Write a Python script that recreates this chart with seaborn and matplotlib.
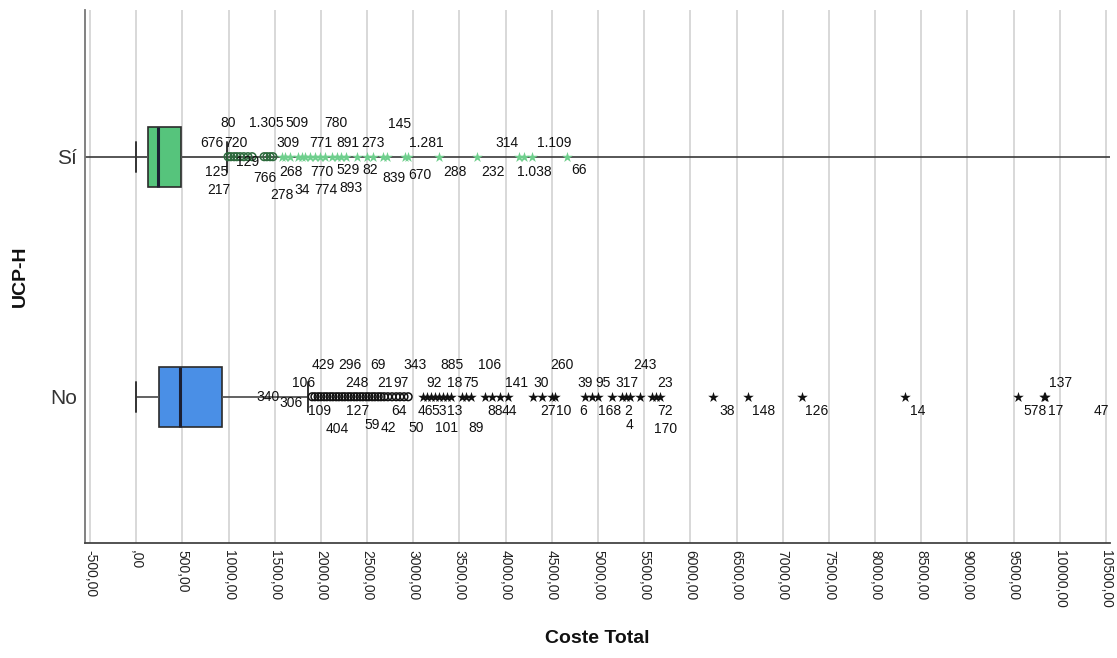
import numpy as np
import pandas as pd
import matplotlib
matplotlib.use("Agg")
import matplotlib.pyplot as plt
import seaborn as sns

# ---- data -------------------------------------------------------------
categories = ["Sí", "No"]

# five-number summaries: lower whisker, Q1, median, Q3, upper whisker
box_summary_si = [0, 124, 233, 482, 980]
box_summary_no = [0, 247, 474, 926, 1863]

# outlying cases (Coste Total) and their case numbers ("" = label hidden)
si_outliers = [995, 1025, 1060, 1090, 1125, 1165, 1210, 1255, 1385, 1415, 1450, 1480,
               1580, 1610, 1665, 1750, 1795, 1830, 1880, 1935, 1990, 2045, 2120, 2175,
               2215, 2270, 2390, 2500, 2565, 2670, 2715, 2910, 2940, 3280, 3690, 4145,
               4200, 4285, 4665]
si_case_ids = ["676", "125", "217", "80", "720", "129", "", "", "1.305", "766", "", "",
               "278", "309", "268", "509", "34", "", "", "771", "770", "774", "780", "891",
               "529", "893", "273", "82", "", "839", "145", "670", "1.281", "288", "232", "314",
               "1.038", "1.109", "66"]

no_outliers = [1905, 1935, 1970, 2000, 2035, 2065, 2100, 2130, 2165, 2195, 2230, 2260,
               2295, 2325, 2360, 2390, 2425, 2455, 2490, 2520, 2555, 2585, 2620, 2650,
               2685, 2725, 2770, 2815, 2855, 2900, 2945,
               3105, 3150, 3190, 3235, 3280, 3320, 3365, 3410, 3525, 3570, 3625, 3775,
               3850, 3935, 4025, 4295, 4395, 4500, 4535, 4860, 4935, 5000, 5150, 5260,
               5305, 5345, 5455, 5585, 5630, 5670, 6245, 6625, 7210, 8325, 9545, 9830,
               9840, 10650]
no_case_ids = ["340", "306", "106", "109", "429", "", "", "", "404", "", "", "",
               "296", "", "127", "248", "", "", "", "59", "", "69", "", "21",
               "", "42", "", "97", "64", "", "343",
               "50", "46", "92", "53", "101", "885", "18", "13", "75", "89", "106", "88",
               "", "44", "141", "30", "27", "260", "10", "39", "6", "95", "168", "317",
               "2", "4", "243", "23", "170", "72", "38", "148", "126", "14", "578", "137",
               "17", "47"]

x_ticks = np.arange(-500, 10501, 500)

# ---- label placement (pixel offsets from each point: right, down) -----
si_label_offsets = [(-16, -14), (-14, 15), (-15, 33), (-9, -34), (-4, -14), (4, 5), None, None,
                    (2, -34), (-2, 21), None, None,
                    (0, 38), (3, -14), (1, 15), (-1, -34), (0, 33), None, None, (6, -14),
                    (2, 15), (1, 33), (4, -34), (11, -14), (7, 13), (5, 31), (16, -14),
                    (3, 13), None, (11, 21), (13, -33), (15, 18), (19, -14), (16, 15),
                    (16, 15), (-12, -14), (10, 15), (22, -14), (12, 13)]
no_label_offsets = [(-44, 0), (-24, 6), (-15, -14), (-1, 14), (-1, -32), None, None, None,
                    (1, 32), None, None, None, (2, -32), None, (3, 14), (0, -14), None,
                    None, None, (3, 28), None, (3, -32), None, (4, -14), None, (1, 31),
                    None, (5, -14), (-1, 14), None, (7, -32),
                    (-7, 31), (-2, 14), (3, -14), (4, 14), (7, 31), (9, -32), (8, -14),
                    (4, 14), (9, -14), (10, 31), (19, -32), (10, 14), None, (10, 14),
                    (9, -14), (8, -14), (6, 14), (10, -32), (9, 14), (0, -14), (-9, 14),
                    (5, -14), (-2, 14), (5, -14), (2, 14), (0, 28), (5, -32), (13, -14),
                    (9, 32), (5, 14), (14, 14), (15, 14), (15, 14), (13, 14), (17, 14),
                    (16, -14), (11, 14), (-18, 14)]

box_colors = {"Sí": "#56c47c", "No": "#4a8fe6"}
circle_edge = {"Sí": "#2c6a3c", "No": "#111111"}
star_color = {"Sí": "#6fcf8d", "No": "#111111"}

# ---- figure -------------------------------------------------------------
sns.set_theme(style="white")
plt.rcParams["font.family"] = ["Liberation Sans", "DejaVu Sans"]

fig, ax = plt.subplots(figsize=(11.17, 6.58), dpi=100)
fig.subplots_adjust(left=0.0761, right=0.9937, top=0.9848, bottom=0.1752)

box_df = pd.DataFrame({
    "UCP-H": np.repeat(categories, 5),
    "Coste Total": box_summary_si + box_summary_no,
})

for v in x_ticks:
    ax.axvline(v, color="#d2d2d2", lw=1.2, zorder=0.5)

# full-width reference line through the "Sí" row
ax.axhline(categories.index("Sí"), color="#3a3a3a", lw=1.2, zorder=1.2)

sns.boxplot(data=box_df, x="Coste Total", y="UCP-H", hue="UCP-H",
            order=categories, hue_order=categories, palette=box_colors,
            saturation=1, width=0.25, whis=1.5, showfliers=False, orient="h",
            linecolor="#2b2b2b", linewidth=1.2, legend=False, ax=ax,
            medianprops=dict(color="#1b1f33", linewidth=2.2),
            whiskerprops=dict(color="#555555", linewidth=1.3),
            capprops=dict(color="#333333", linewidth=1.4))

groups = {"Sí": (si_outliers, si_case_ids, si_label_offsets, box_summary_si),
          "No": (no_outliers, no_case_ids, no_label_offsets, box_summary_no)}

for grp, (vals, ids, offs, summ) in groups.items():
    q1, q3 = summ[1], summ[3]
    extreme_fence = q3 + 3 * (q3 - q1)
    vals = np.asarray(vals, dtype=float)
    df = pd.DataFrame({"UCP-H": grp, "Coste Total": vals})
    mild = df[df["Coste Total"] <= extreme_fence]
    extreme = df[df["Coste Total"] > extreme_fence]
    sns.stripplot(data=mild, x="Coste Total", y="UCP-H", order=categories,
                  jitter=False, orient="h", marker="o", size=5.5,
                  facecolor="none", edgecolor=circle_edge[grp], linewidth=1.1,
                  color=circle_edge[grp], ax=ax, zorder=3)
    sns.stripplot(data=extreme, x="Coste Total", y="UCP-H", order=categories,
                  jitter=False, orient="h", marker="*", size=8,
                  color=star_color[grp], linewidth=0, ax=ax, zorder=3)

    ypos = categories.index(grp)
    for val, cid, off in zip(vals, ids, offs):
        if not cid or off is None:
            continue
        ax.annotate(cid, xy=(val, ypos), xytext=(off[0], -off[1]),
                    textcoords="offset pixels", ha="center", va="center",
                    fontsize=10, color="#111111", annotation_clip=False, zorder=4)

# ---- axes -------------------------------------------------------------
ax.set_xlim(-554, 10543)
ax.set_ylim(1.608, -0.611)
ax.set_xticks(x_ticks)
ax.set_xticklabels([(",00" if v == 0 else f"{v:.2f}".replace(".", ",")) for v in x_ticks],
                   rotation=270, fontsize=10, color="#222222")
ax.set_yticks(range(len(categories)))
ax.set_yticklabels(categories, fontsize=15, color="#333333")
ax.tick_params(axis="both", length=0)
ax.tick_params(axis="x", pad=5)
ax.tick_params(axis="y", pad=6)
ax.grid(False)

for side in ("top", "right"):
    ax.spines[side].set_visible(False)
ax.spines["left"].set_color("#777777")
ax.spines["left"].set_linewidth(1.3)
ax.spines["bottom"].set_color("#444444")
ax.spines["bottom"].set_linewidth(1.3)

ax.set_xlabel("Coste Total", fontsize=14, fontweight="bold", color="#111111")
ax.set_ylabel("UCP-H", fontsize=14, fontweight="bold", color="#111111")
ax.xaxis.set_label_coords(0.5, -0.179)
ax.xaxis.label.set_va("center")
ax.yaxis.set_label_coords(-0.0634, 0.5)
ax.yaxis.label.set_va("center")

fig.savefig("out.png", dpi=100)
